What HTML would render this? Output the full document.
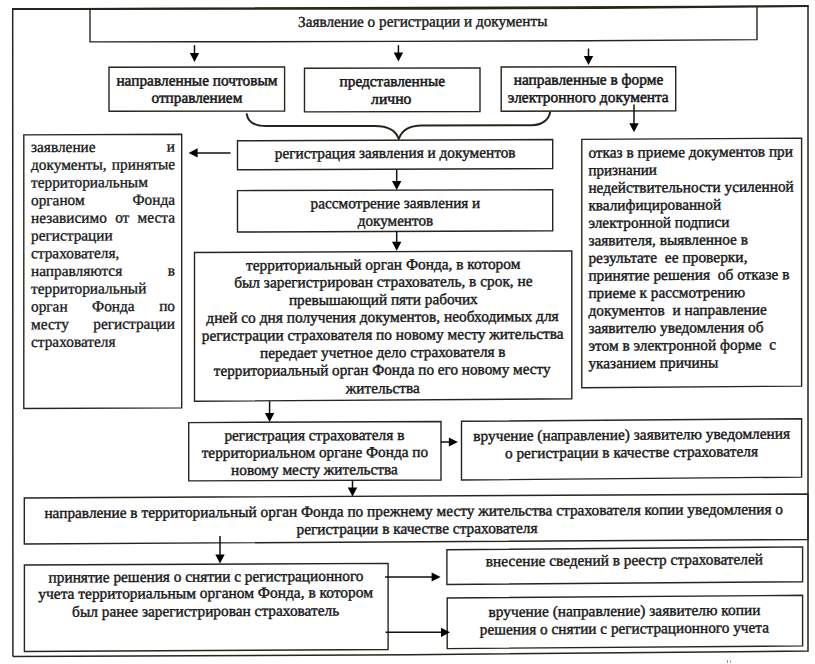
<!DOCTYPE html>
<html><head><meta charset="utf-8"><style>
html,body{margin:0;padding:0;background:#fff;}
body{width:815px;height:664px;overflow:hidden;}
svg{display:block;}
text{font-family:"Liberation Serif",serif;fill:#141414;}
</style></head><body>
<svg width="815" height="664" viewBox="0 0 815 664">
<rect width="815" height="664" fill="#fff"/>
<polyline points="12.9,656.6 12.7,9.0 808,6.1 808,651 410,654.7 12.9,656.6" fill="none" stroke="#26261c" stroke-width="1.5" stroke-linejoin="miter"/>
<polyline points="12.0,9.0 100,9.0 420,8.7 600,8.0 757,6.6 808.6,6.1" fill="none" stroke="#26261c" stroke-width="2.0"/>
<polyline points="90,9.0 90,41.9 194,41.8 398,41.4 589,40.8 757,39.6 757,6.6" fill="none" stroke="#26261c" stroke-width="1.40"/>
<polygon points="109.00,67.30 284.60,66.90 284.60,111.10 109.00,111.30" fill="none" stroke="#26261c" stroke-width="1.40"/>
<polygon points="304.50,68.30 480.00,67.90 480.00,111.50 304.50,111.90" fill="none" stroke="#26261c" stroke-width="1.40"/>
<polygon points="501.20,67.00 675.70,66.60 675.70,110.80 501.20,111.30" fill="none" stroke="#26261c" stroke-width="1.40"/>
<polygon points="23.80,134.90 181.70,134.30 181.70,407.90 23.80,408.50" fill="none" stroke="#26261c" stroke-width="1.40"/>
<polygon points="237.50,140.80 552.70,139.50 552.70,168.60 237.50,169.80" fill="none" stroke="#26261c" stroke-width="1.40"/>
<polygon points="237.50,190.60 552.70,189.80 552.70,230.80 237.50,232.00" fill="none" stroke="#26261c" stroke-width="1.40"/>
<polygon points="194.50,252.50 571.80,250.90 571.80,398.80 194.50,401.30" fill="none" stroke="#26261c" stroke-width="1.40"/>
<polygon points="581.80,139.40 801.60,138.20 801.60,386.10 581.80,387.70" fill="none" stroke="#26261c" stroke-width="1.40"/>
<polygon points="188.70,422.60 441.00,421.50 441.00,480.00 188.70,480.90" fill="none" stroke="#26261c" stroke-width="1.40"/>
<polygon points="461.50,421.30 801.60,418.70 801.60,477.10 461.50,480.00" fill="none" stroke="#26261c" stroke-width="1.40"/>
<polygon points="24.30,498.00 808.00,494.00 808.00,539.50 24.30,544.00" fill="none" stroke="#26261c" stroke-width="1.40"/>
<polygon points="24.40,565.00 388.10,563.40 388.10,649.50 24.40,651.50" fill="none" stroke="#26261c" stroke-width="1.40"/>
<polygon points="446.90,549.70 802.60,546.90 802.60,581.70 446.90,584.50" fill="none" stroke="#26261c" stroke-width="1.40"/>
<polygon points="447.20,598.00 802.60,595.30 802.60,645.90 447.20,648.60" fill="none" stroke="#26261c" stroke-width="1.40"/>
<line x1="194.50" y1="45.20" x2="194.50" y2="53.90" stroke="#111" stroke-width="1.5"/>
<polygon points="189.80,52.90 199.20,52.90 194.50,61.90" fill="#000"/>
<line x1="398.40" y1="45.20" x2="398.40" y2="53.40" stroke="#111" stroke-width="1.5"/>
<polygon points="393.70,52.40 403.10,52.40 398.40,61.40" fill="#000"/>
<line x1="588.50" y1="48.50" x2="588.50" y2="56.90" stroke="#111" stroke-width="1.5"/>
<polygon points="583.80,55.90 593.20,55.90 588.50,64.90" fill="#000"/>
<line x1="634.00" y1="104.40" x2="634.00" y2="124.30" stroke="#111" stroke-width="1.5"/>
<polygon points="629.30,123.30 638.70,123.30 634.00,132.30" fill="#000"/>
<line x1="230.50" y1="152.90" x2="196.60" y2="152.90" stroke="#111" stroke-width="1.5"/>
<polygon points="197.60,148.30 197.60,157.50 188.60,152.90" fill="#000"/>
<line x1="396.70" y1="169.50" x2="396.70" y2="181.90" stroke="#111" stroke-width="1.5"/>
<polygon points="392.00,180.90 401.40,180.90 396.70,189.90" fill="#000"/>
<line x1="396.70" y1="231.00" x2="396.70" y2="242.80" stroke="#111" stroke-width="1.5"/>
<polygon points="392.00,241.80 401.40,241.80 396.70,250.80" fill="#000"/>
<line x1="269.60" y1="401.30" x2="269.60" y2="413.90" stroke="#111" stroke-width="1.5"/>
<polygon points="264.90,412.90 274.30,412.90 269.60,421.90" fill="#000"/>
<line x1="440.80" y1="442.00" x2="449.90" y2="442.00" stroke="#111" stroke-width="1.5"/>
<polygon points="448.90,437.40 448.90,446.60 457.90,442.00" fill="#000"/>
<line x1="352.50" y1="480.80" x2="352.50" y2="488.60" stroke="#111" stroke-width="1.5"/>
<polygon points="347.80,487.60 357.20,487.60 352.50,496.60" fill="#000"/>
<line x1="220.00" y1="536.00" x2="220.00" y2="555.50" stroke="#111" stroke-width="1.5"/>
<polygon points="215.30,554.50 224.70,554.50 220.00,563.50" fill="#000"/>
<line x1="385.00" y1="577.00" x2="432.60" y2="577.00" stroke="#111" stroke-width="1.5"/>
<polygon points="431.60,572.40 431.60,581.60 440.60,577.00" fill="#000"/>
<line x1="385.50" y1="632.30" x2="442.00" y2="632.30" stroke="#111" stroke-width="1.5"/>
<polygon points="441.00,627.70 441.00,636.90 450.00,632.30" fill="#000"/>
<path d="M246.6,113.3 C247.5,121 254,126 266,126.1 L375,126 C388,126 396,131 398.8,139.0 C401.5,131 409,125.6 422,125.6 L532,125.2 C543,125 549,119 550.2,111.8" fill="none" stroke="#26261c" stroke-width="2.0" stroke-linejoin="round"/>
<text transform="translate(298.00,26.90) skewY(-0.201)" font-size="15.33" textLength="249.40" lengthAdjust="spacingAndGlyphs" stroke="#141414" stroke-width="0.35">Заявление о регистрации и документы</text>
<text transform="translate(116.40,85.60) skewY(-0.098)" font-size="15.33" textLength="161.10" lengthAdjust="spacingAndGlyphs" stroke="#141414" stroke-width="0.50">направленные почтовым</text>
<text transform="translate(151.50,102.80) skewY(-0.098)" font-size="15.33" textLength="90.80" lengthAdjust="spacingAndGlyphs" stroke="#141414" stroke-width="0.50">отправлением</text>
<text transform="translate(339.60,86.30) skewY(-0.131)" font-size="15.33" textLength="105.40" lengthAdjust="spacingAndGlyphs" stroke="#141414" stroke-width="0.50">представленные</text>
<text transform="translate(371.10,103.90) skewY(-0.131)" font-size="15.33" textLength="40.30" lengthAdjust="spacingAndGlyphs" stroke="#141414" stroke-width="0.50">лично</text>
<text transform="translate(513.70,84.80) skewY(-0.148)" font-size="15.33" textLength="149.60" lengthAdjust="spacingAndGlyphs" stroke="#141414" stroke-width="0.50">направленные в форме</text>
<text transform="translate(507.80,102.40) skewY(-0.148)" font-size="15.33" textLength="160.90" lengthAdjust="spacingAndGlyphs" stroke="#141414" stroke-width="0.50">электронного документа</text>
<text transform="translate(31.00,152.10) skewY(-0.218)" font-size="15.33" textLength="64.62" lengthAdjust="spacingAndGlyphs" stroke="#141414" stroke-width="0.30">заявление</text>
<text transform="translate(166.80,151.58) skewY(-0.218)" font-size="15.33" textLength="8.20" lengthAdjust="spacingAndGlyphs" stroke="#141414" stroke-width="0.30">и</text>
<text transform="translate(31.00,169.81) skewY(-0.218)" font-size="15.33" textLength="75.70" lengthAdjust="spacingAndGlyphs" stroke="#141414" stroke-width="0.30">документы,</text>
<text transform="translate(111.87,169.50) skewY(-0.218)" font-size="15.33" textLength="63.13" lengthAdjust="spacingAndGlyphs" stroke="#141414" stroke-width="0.30">принятые</text>
<text transform="translate(31.00,187.52) skewY(-0.218)" font-size="15.33" textLength="116.86" lengthAdjust="spacingAndGlyphs" stroke="#141414" stroke-width="0.30">территориальным</text>
<text transform="translate(31.00,205.23) skewY(-0.218)" font-size="15.33" textLength="53.70" lengthAdjust="spacingAndGlyphs" stroke="#141414" stroke-width="0.30">органом</text>
<text transform="translate(132.42,204.84) skewY(-0.218)" font-size="15.33" textLength="42.58" lengthAdjust="spacingAndGlyphs" stroke="#141414" stroke-width="0.30">Фонда</text>
<text transform="translate(31.00,222.94) skewY(-0.218)" font-size="15.33" textLength="75.87" lengthAdjust="spacingAndGlyphs" stroke="#141414" stroke-width="0.30">независимо</text>
<text transform="translate(115.16,222.62) skewY(-0.218)" font-size="15.33" textLength="14.16" lengthAdjust="spacingAndGlyphs" stroke="#141414" stroke-width="0.30">от</text>
<text transform="translate(137.62,222.53) skewY(-0.218)" font-size="15.33" textLength="37.38" lengthAdjust="spacingAndGlyphs" stroke="#141414" stroke-width="0.30">места</text>
<text transform="translate(31.00,240.65) skewY(-0.218)" font-size="15.33" textLength="81.74" lengthAdjust="spacingAndGlyphs" stroke="#141414" stroke-width="0.30">регистрации</text>
<text transform="translate(31.00,258.36) skewY(-0.218)" font-size="15.33" textLength="88.39" lengthAdjust="spacingAndGlyphs" stroke="#141414" stroke-width="0.30">страхователя,</text>
<text transform="translate(31.00,276.07) skewY(-0.218)" font-size="15.33" textLength="91.22" lengthAdjust="spacingAndGlyphs" stroke="#141414" stroke-width="0.30">направляются</text>
<text transform="translate(167.76,275.55) skewY(-0.218)" font-size="15.33" textLength="7.24" lengthAdjust="spacingAndGlyphs" stroke="#141414" stroke-width="0.30">в</text>
<text transform="translate(31.00,293.78) skewY(-0.218)" font-size="15.33" textLength="115.36" lengthAdjust="spacingAndGlyphs" stroke="#141414" stroke-width="0.30">территориальный</text>
<text transform="translate(31.00,311.49) skewY(-0.218)" font-size="15.33" textLength="36.63" lengthAdjust="spacingAndGlyphs" stroke="#141414" stroke-width="0.30">орган</text>
<text transform="translate(92.09,311.26) skewY(-0.218)" font-size="15.33" textLength="42.58" lengthAdjust="spacingAndGlyphs" stroke="#141414" stroke-width="0.30">Фонда</text>
<text transform="translate(159.13,311.00) skewY(-0.218)" font-size="15.33" textLength="15.87" lengthAdjust="spacingAndGlyphs" stroke="#141414" stroke-width="0.30">по</text>
<text transform="translate(31.00,329.20) skewY(-0.218)" font-size="15.33" textLength="37.86" lengthAdjust="spacingAndGlyphs" stroke="#141414" stroke-width="0.30">месту</text>
<text transform="translate(93.26,328.96) skewY(-0.218)" font-size="15.33" textLength="81.74" lengthAdjust="spacingAndGlyphs" stroke="#141414" stroke-width="0.30">регистрации</text>
<text transform="translate(31.00,346.91) skewY(-0.218)" font-size="15.33" textLength="84.56" lengthAdjust="spacingAndGlyphs" stroke="#141414" stroke-width="0.30">страхователя</text>
<text transform="translate(274.80,158.40) skewY(-0.227)" font-size="15.33" textLength="240.80" lengthAdjust="spacingAndGlyphs" stroke="#141414" stroke-width="0.38">регистрация заявления и документов</text>
<text transform="translate(310.60,208.40) skewY(-0.182)" font-size="15.33" textLength="169.70" lengthAdjust="spacingAndGlyphs" stroke="#141414" stroke-width="0.38">рассмотрение заявления и</text>
<text transform="translate(357.80,225.80) skewY(-0.182)" font-size="15.33" textLength="75.30" lengthAdjust="spacingAndGlyphs" stroke="#141414" stroke-width="0.38">документов</text>
<text transform="translate(246.00,270.30) skewY(-0.311)" font-size="15.33" textLength="274.40" lengthAdjust="spacingAndGlyphs" stroke="#141414" stroke-width="0.38">территориальный орган Фонда, в котором</text>
<text transform="translate(234.20,287.60) skewY(-0.311)" font-size="15.33" textLength="298.40" lengthAdjust="spacingAndGlyphs" stroke="#141414" stroke-width="0.38">был зарегистрирован страхователь, в срок, не</text>
<text transform="translate(288.90,305.10) skewY(-0.311)" font-size="15.33" textLength="188.80" lengthAdjust="spacingAndGlyphs" stroke="#141414" stroke-width="0.38">превышающий пяти рабочих</text>
<text transform="translate(206.30,322.90) skewY(-0.311)" font-size="15.33" textLength="352.40" lengthAdjust="spacingAndGlyphs" stroke="#141414" stroke-width="0.38">дней со дня получения документов, необходимых для</text>
<text transform="translate(201.80,340.70) skewY(-0.311)" font-size="15.33" textLength="361.80" lengthAdjust="spacingAndGlyphs" stroke="#141414" stroke-width="0.38">регистрации страхователя по новому месту жительства</text>
<text transform="translate(260.00,358.00) skewY(-0.311)" font-size="15.33" textLength="245.60" lengthAdjust="spacingAndGlyphs" stroke="#141414" stroke-width="0.38">передает учетное дело страхователя в</text>
<text transform="translate(213.80,375.80) skewY(-0.311)" font-size="15.33" textLength="336.80" lengthAdjust="spacingAndGlyphs" stroke="#141414" stroke-width="0.38">территориальный орган Фонда по его новому месту</text>
<text transform="translate(345.80,393.40) skewY(-0.311)" font-size="15.33" textLength="74.00" lengthAdjust="spacingAndGlyphs" stroke="#141414" stroke-width="0.38">жительства</text>
<text transform="translate(588.40,157.70) skewY(-0.365)" font-size="15.33" textLength="204.60" lengthAdjust="spacingAndGlyphs" stroke="#141414" stroke-width="0.38">отказ в приеме документов при</text>
<text transform="translate(588.40,175.25) skewY(-0.365)" font-size="15.33" textLength="68.40" lengthAdjust="spacingAndGlyphs" stroke="#141414" stroke-width="0.38">признании</text>
<text transform="translate(588.40,192.80) skewY(-0.365)" font-size="15.33" textLength="205.30" lengthAdjust="spacingAndGlyphs" stroke="#141414" stroke-width="0.38">недействительности усиленной</text>
<text transform="translate(588.40,210.35) skewY(-0.365)" font-size="15.33" textLength="132.70" lengthAdjust="spacingAndGlyphs" stroke="#141414" stroke-width="0.38">квалифицированной</text>
<text transform="translate(588.40,227.90) skewY(-0.365)" font-size="15.33" textLength="141.20" lengthAdjust="spacingAndGlyphs" stroke="#141414" stroke-width="0.38">электронной подписи</text>
<text transform="translate(588.40,245.45) skewY(-0.365)" font-size="15.33" textLength="159.60" lengthAdjust="spacingAndGlyphs" stroke="#141414" stroke-width="0.38">заявителя, выявленное в</text>
<text transform="translate(588.40,263.00) skewY(-0.365)" font-size="15.33" textLength="159.10" lengthAdjust="spacingAndGlyphs" stroke="#141414" stroke-width="0.38">результате  ее проверки,</text>
<text transform="translate(588.40,280.55) skewY(-0.365)" font-size="15.33" textLength="201.00" lengthAdjust="spacingAndGlyphs" stroke="#141414" stroke-width="0.38">принятие решения  об отказе в</text>
<text transform="translate(588.40,298.10) skewY(-0.365)" font-size="15.33" textLength="156.70" lengthAdjust="spacingAndGlyphs" stroke="#141414" stroke-width="0.38">приеме к рассмотрению</text>
<text transform="translate(588.40,315.65) skewY(-0.365)" font-size="15.33" textLength="178.40" lengthAdjust="spacingAndGlyphs" stroke="#141414" stroke-width="0.38">документов  и направление</text>
<text transform="translate(588.40,333.20) skewY(-0.365)" font-size="15.33" textLength="175.10" lengthAdjust="spacingAndGlyphs" stroke="#141414" stroke-width="0.38">заявителю уведомления об</text>
<text transform="translate(588.40,350.75) skewY(-0.365)" font-size="15.33" textLength="187.80" lengthAdjust="spacingAndGlyphs" stroke="#141414" stroke-width="0.38">этом в электронной форме  с</text>
<text transform="translate(588.40,368.30) skewY(-0.365)" font-size="15.33" textLength="129.90" lengthAdjust="spacingAndGlyphs" stroke="#141414" stroke-width="0.38">указанием причины</text>
<text transform="translate(224.40,440.60) skewY(-0.227)" font-size="15.33" textLength="180.00" lengthAdjust="spacingAndGlyphs" stroke="#141414" stroke-width="0.38">регистрация страхователя в</text>
<text transform="translate(201.70,457.80) skewY(-0.227)" font-size="15.33" textLength="226.40" lengthAdjust="spacingAndGlyphs" stroke="#141414" stroke-width="0.38">территориальном органе Фонда по</text>
<text transform="translate(231.10,475.00) skewY(-0.227)" font-size="15.33" textLength="166.60" lengthAdjust="spacingAndGlyphs" stroke="#141414" stroke-width="0.38">новому месту жительства</text>
<text transform="translate(473.30,441.00) skewY(-0.463)" font-size="15.33" textLength="316.80" lengthAdjust="spacingAndGlyphs" stroke="#141414" stroke-width="0.38">вручение (направление) заявителю уведомления</text>
<text transform="translate(504.90,458.30) skewY(-0.463)" font-size="15.33" textLength="253.10" lengthAdjust="spacingAndGlyphs" stroke="#141414" stroke-width="0.38">о регистрации в качестве страхователя</text>
<text transform="translate(44.40,518.10) skewY(-0.311)" font-size="15.33" textLength="738.60" lengthAdjust="spacingAndGlyphs" stroke="#141414" stroke-width="0.38">направление в территориальный орган Фонда по прежнему месту жительства страхователя копии уведомления о</text>
<text transform="translate(296.50,534.30) skewY(-0.311)" font-size="15.33" textLength="241.00" lengthAdjust="spacingAndGlyphs" stroke="#141414" stroke-width="0.38">регистрации в качестве страхователя</text>
<text transform="translate(48.60,582.40) skewY(-0.284)" font-size="15.33" textLength="314.90" lengthAdjust="spacingAndGlyphs" stroke="#141414" stroke-width="0.38">принятие решения о снятии с регистрационного</text>
<text transform="translate(38.30,598.90) skewY(-0.284)" font-size="15.33" textLength="334.70" lengthAdjust="spacingAndGlyphs" stroke="#141414" stroke-width="0.38">учета территориальным органом Фонда, в котором</text>
<text transform="translate(72.10,616.80) skewY(-0.284)" font-size="15.33" textLength="267.10" lengthAdjust="spacingAndGlyphs" stroke="#141414" stroke-width="0.38">был ранее зарегистрирован страхователь</text>
<text transform="translate(485.80,566.30) skewY(-0.451)" font-size="15.33" textLength="277.20" lengthAdjust="spacingAndGlyphs" stroke="#141414" stroke-width="0.38">внесение сведений в реестр страхователей</text>
<text transform="translate(488.50,616.90) skewY(-0.435)" font-size="15.33" textLength="271.90" lengthAdjust="spacingAndGlyphs" stroke="#141414" stroke-width="0.38">вручение (направление) заявителю копии</text>
<text transform="translate(479.80,634.60) skewY(-0.435)" font-size="15.33" textLength="289.20" lengthAdjust="spacingAndGlyphs" stroke="#141414" stroke-width="0.38">решения о снятии с регистрационного учета</text>
<rect x="727" y="660" width="1" height="3" fill="#999"/><rect x="730" y="660" width="1" height="3" fill="#aaa"/>
</svg>
</body></html>
